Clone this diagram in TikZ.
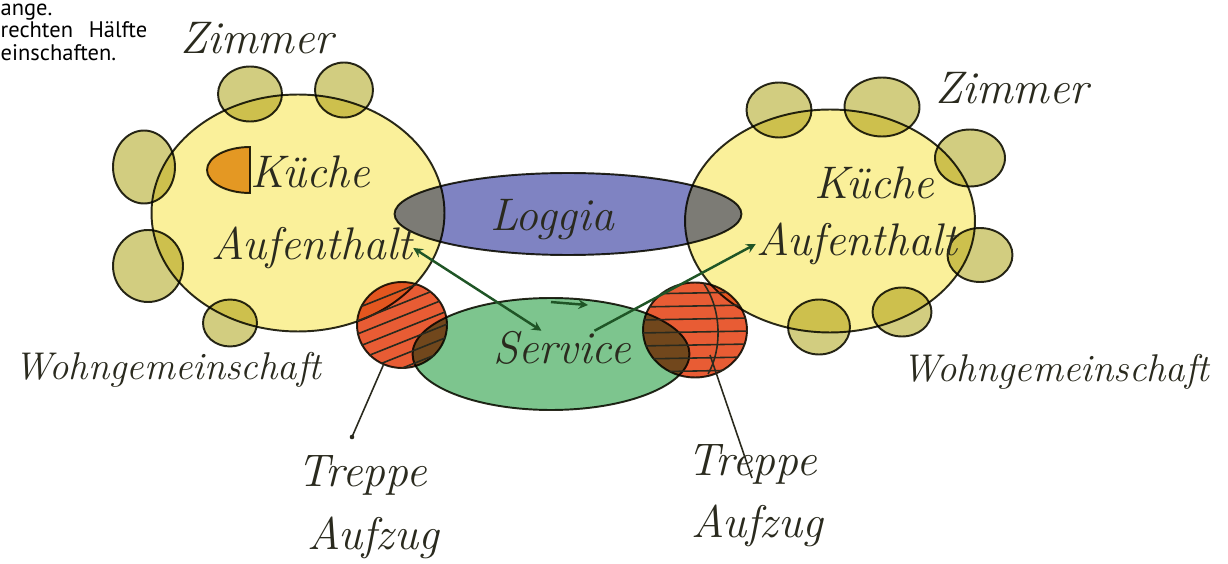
\documentclass[tikz,border=0pt]{standalone}
\usepackage{fontspec}
\setsansfont{PT Sans}
\usepackage{tikz}
\usetikzlibrary{shapes.geometric, positioning, calc}

\definecolor{ink}{HTML}{2A2A1E}
\definecolor{wgyellow}{HTML}{FAF09A}
\definecolor{roomolive}{HTML}{D2CD80}
\definecolor{loggiablue}{HTML}{7F83C2}
\definecolor{servicegreen}{HTML}{7DC58E}
\definecolor{stairred}{HTML}{E85C34}
\definecolor{kitchenorange}{HTML}{E9A23A}
\definecolor{arrowgreen}{HTML}{1F5526}

\begin{document}
\begin{tikzpicture}[x=0.02cm, y=-0.02cm, thick, >=stealth,
    blob/.style={ellipse, draw=ink, line width=1.1pt, inner sep=0pt},
    room/.style={blob, fill=roomolive},
    hand/.style={font=\fontsize{26}{28}\selectfont\itshape, text=ink, inner sep=0pt},
    link/.style={draw=arrowgreen, line width=1.4pt}]
    \useasboundingbox (0,0) rectangle (1228,564);

    % Page text
    \node[anchor=north west, align=left, inner sep=0pt, text=black,
          font=\sffamily\fontsize{12.8}{12.75}\selectfont] (pagetext) at (0,3)
          {ange.\\rechten\hspace{0.7em}Hälfte\\einschaften.};

    \begin{scope}[blend mode=multiply]
    % Wohngemeinschaften
    \node[blob, fill=wgyellow, minimum width=5.86cm, minimum height=4.74cm] (wgL) at (298,213) {};
    \node[blob, fill=wgyellow, minimum width=5.8cm, minimum height=4.46cm] (wgR) at (830,221) {};

    % Zimmer left
    \node[room, minimum width=1.28cm, minimum height=1.1cm] (zL1) at (250,94) {};
    \node[room, minimum width=1.16cm, minimum height=1.1cm] (zL2) at (344,90) {};
    \node[room, minimum width=1.24cm, minimum height=1.46cm] (zL3) at (144,167) {};
    \node[room, minimum width=1.4cm, minimum height=1.44cm] (zL4) at (148,266) {};
    \node[room, minimum width=1.08cm, minimum height=0.94cm] (zL5) at (230,323) {};

    % Zimmer right
    \node[room, minimum width=1.3cm, minimum height=1.1cm] (zR1) at (779,110) {};
    \node[room, minimum width=1.5cm, minimum height=1.18cm] (zR2) at (882,107) {};
    \node[room, minimum width=1.4cm, minimum height=1.14cm] (zR3) at (970,158) {};
    \node[room, minimum width=1.3cm, minimum height=1.08cm] (zR4) at (980,255) {};
    \node[room, minimum width=1.18cm, minimum height=0.98cm] (zR5) at (902,312) {};
    \node[room, minimum width=1.24cm, minimum height=1.1cm] (zR6) at (819,327) {};

    % Kitchen
    \filldraw[fill=kitchenorange, draw=ink, line width=1.1pt] (250,147)
        arc[start angle=90, end angle=270, x radius=0.86cm, y radius=0.46cm] -- cycle;

    % Loggia and service
    \node[blob, fill=loggiablue, minimum width=6.94cm, minimum height=1.64cm] (loggia) at (568,214) {};
    \node[blob, fill=servicegreen, minimum width=5.54cm, minimum height=2.24cm] (service) at (551,354) {};

    % Stairs
    \node[blob, fill=stairred, minimum width=1.8cm, minimum height=1.72cm] (treppeL) at (402,325) {};
    \node[blob, fill=stairred, minimum width=2.08cm, minimum height=1.9cm] (treppeR) at (695,330) {};
    \end{scope}

    % Hatching
    \begin{scope}
        \clip (treppeL.center) ellipse [x radius=0.9cm, y radius=0.86cm];
        \foreach \k in {0,...,7}
            \draw[ink, line width=0.9pt] (340,302+13*\k) -- (470,250+13*\k);
    \end{scope}
    \begin{scope}
        \clip (treppeR.center) ellipse [x radius=1.04cm, y radius=0.95cm];
        \foreach \k in {0,...,6}
            \draw[ink, line width=0.9pt] (640,294+13*\k) -- (750,292+13*\k);
        \draw[ink, line width=0.9pt] (704,284) .. controls (722,310) and (722,350) .. (708,374);
    \end{scope}

    % Labels
    \node[hand] (zimmerL) at (257,38) {Zimmer};
    \node[hand] (zimmerR) at (1012,88) {Zimmer};
    \node[hand] (kuecheL) at (310,172) {Küche};
    \node[hand] (aufL) at (312,248) {Aufenthalt};
    \node[hand] (kuecheR) at (874,183) {Küche};
    \node[hand] (aufR) at (857,244) {Aufenthalt};
    \node[hand] (loggiaT) at (552,220) {Loggia};
    \node[hand] (serviceT) at (562,348) {Service};
    \node[hand, font=\fontsize{22}{24}\selectfont\itshape] (wgTL) at (168,370) {Wohngemeinschaft};
    \node[hand, font=\fontsize{22}{24}\selectfont\itshape] (wgTR) at (1056,372) {Wohngemeinschaft};
    \node[hand] (treppeTL) at (362,475) {Treppe};
    \node[hand] (aufzugTL) at (373,538) {Aufzug};
    \node[hand] (treppeTR) at (752,464) {Treppe};
    \node[hand] (aufzugTR) at (757,526) {Aufzug};

    % Arrows
    \draw[link, <->] (aufL.east) -- (serviceT.140);
    \draw[link, ->] (serviceT.28) -- (aufR.west);
    \draw[link, ->] ([yshift=-0.1cm]service.north) -- ++(0.74cm,-0.06cm);

    % Leaders
    \coordinate (dotL) at (352,437);
    \coordinate (dotR) at (752,478);
    \draw[ink, line width=0.9pt] (treppeL.245) -- (dotL);
    \fill[ink] (dotL) circle (1.3pt);
    \draw[ink, line width=0.9pt] ([shift={(0.3cm,-0.5cm)}]treppeR.center) -- (dotR);
\end{tikzpicture}
\end{document}
